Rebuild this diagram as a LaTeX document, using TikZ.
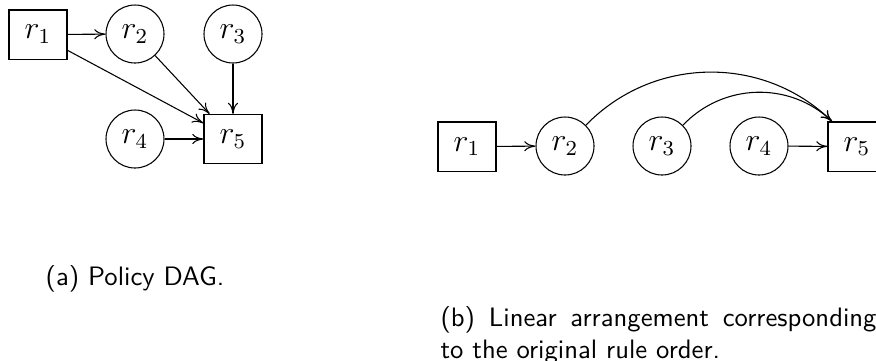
\documentclass[tikz,border=0pt]{standalone}
\usetikzlibrary{arrows.meta}
\begin{document}
\begin{tikzpicture}[x=0.375pt,y=-0.375pt,
  rulebox/.style={draw,rectangle,minimum width=21.75pt,minimum height=18.4pt,inner sep=0pt,font=\large},
  rulecirc/.style={draw,circle,minimum size=21.75pt,inner sep=0pt,font=\large},
  dep/.style={-{To[length=4.2pt,width=3.8pt]}},
  captext/.style={font=\sffamily}]
\useasboundingbox (0,0) rectangle (876,360);
% (a)
\node[rulebox]  (a1) at (38,34.5) {$r_1$};
\node[rulecirc] (a2) at (135,34) {$r_2$};
\node[rulecirc] (a3) at (233,34) {$r_3$};
\node[rulecirc] (a4) at (135,139) {$r_4$};
\node[rulebox]  (a5) at (233,139) {$r_5$};
\draw[dep] (a1) -- (a2);
\draw[dep] (a1) -- (a5);
\draw[dep] (a2) -- (a5);
\draw[dep] (a3) -- (a5);
\draw[dep] (a4) -- (a5);
% (b)
\node[rulebox]  (b1) at (467,146.5) {$r_1$};
\node[rulecirc] (b2) at (565,146) {$r_2$};
\node[rulecirc] (b3) at (662,146) {$r_3$};
\node[rulecirc] (b4) at (759,146) {$r_4$};
\node[rulebox]  (b5) at (857,146.5) {$r_5$};
\draw[dep] (b1) -- (b2);
\draw[dep] (b4) -- (b5);
\draw[dep] (b2) to[bend left=45] (b5);
\draw[dep] (b3) to[bend left=45] (b5);
% captions
\node[captext,anchor=base] (capa) at (135,285) {(a) Policy DAG.};
\node[captext,anchor=base west,text width=163.5pt,align=justify,inner sep=0pt] (capb) at (440,326)
  {(b) Linear arrangement corresponding to the original rule order.};
\end{tikzpicture}
\end{document}
